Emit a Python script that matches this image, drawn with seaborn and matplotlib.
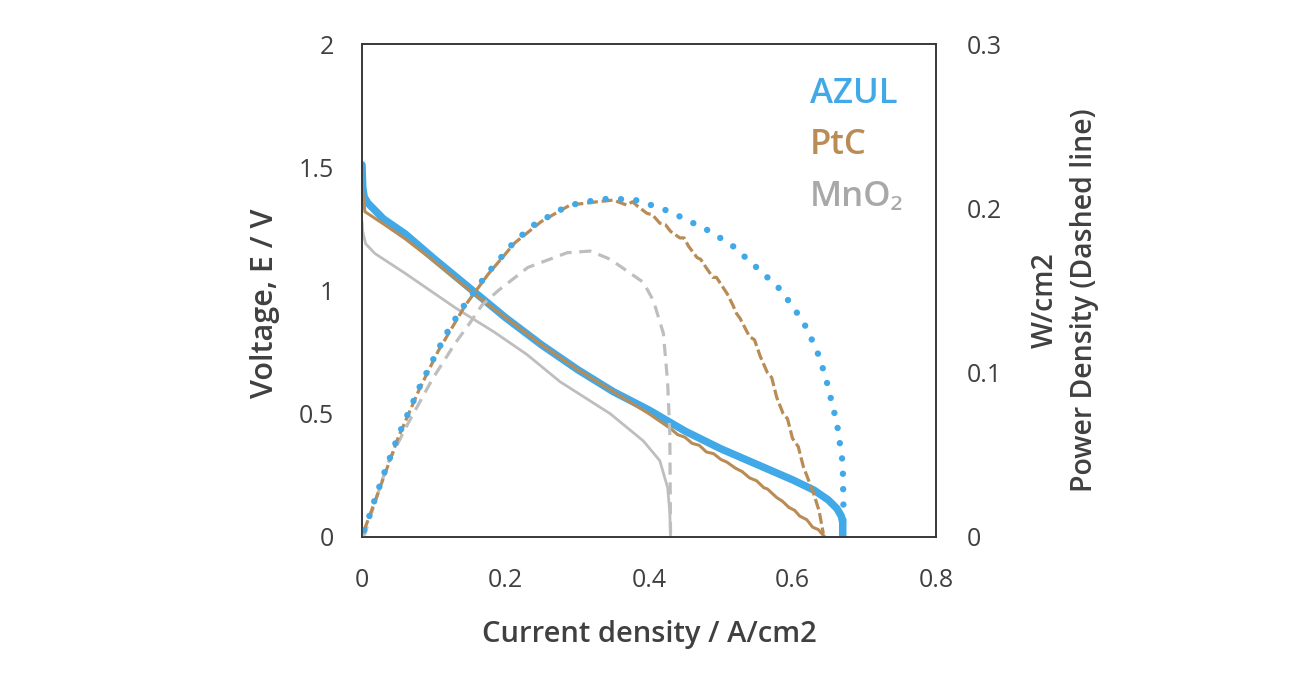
import numpy as np
import pandas as pd
import matplotlib
matplotlib.use("Agg")
import matplotlib.pyplot as plt
import seaborn as sns
from matplotlib.ticker import FuncFormatter

# polarization curves (current density A/cm2, voltage V)
azul_j = [0.0, 0.001, 0.003, 0.008, 0.03, 0.06, 0.10, 0.15, 0.20, 0.25, 0.30, 0.35,
          0.40, 0.45, 0.50, 0.55, 0.60, 0.63, 0.65, 0.662, 0.668, 0.670, 0.670]
azul_v = [1.51, 1.42, 1.38, 1.355, 1.29, 1.23, 1.13, 1.01, 0.89, 0.78, 0.68, 0.59,
          0.515, 0.43, 0.358, 0.295, 0.232, 0.19, 0.15, 0.115, 0.085, 0.06, 0.0]

ptc_j = [0.0, 0.001, 0.004, 0.03, 0.06, 0.10, 0.15, 0.20, 0.25, 0.30, 0.35, 0.40,
         0.43, 0.44, 0.45, 0.46, 0.47, 0.48, 0.49, 0.50, 0.509, 0.52, 0.53, 0.54,
         0.55, 0.56, 0.565, 0.578, 0.586, 0.595, 0.603, 0.61, 0.62, 0.628, 0.636, 0.645]
ptc_v = [1.49, 1.40, 1.32, 1.27, 1.21, 1.12, 1.00, 0.89, 0.78, 0.68, 0.59, 0.50,
         0.44, 0.415, 0.405, 0.38, 0.372, 0.345, 0.338, 0.315, 0.303, 0.28, 0.265, 0.24,
         0.228, 0.2, 0.195, 0.16, 0.145, 0.12, 0.108, 0.085, 0.07, 0.04, 0.03, 0.0]

mno2_j = [0.0, 0.001, 0.005, 0.018, 0.06, 0.13, 0.185, 0.23, 0.276, 0.346, 0.392,
          0.415, 0.426, 0.429, 0.430]
mno2_v = [1.28, 1.24, 1.19, 1.15, 1.07, 0.93, 0.83, 0.74, 0.63, 0.50, 0.39,
          0.31, 0.20, 0.10, 0.0]

# power density curves (W/cm2)
azul_pj = [0.003, 0.007, 0.018, 0.031, 0.05, 0.066, 0.081, 0.106, 0.123, 0.144, 0.176,
           0.213, 0.24, 0.276, 0.30, 0.336, 0.378, 0.41, 0.429, 0.485, 0.517, 0.55,
           0.58, 0.601, 0.62, 0.638, 0.648, 0.662, 0.670, 0.671, 0.671]
azul_p = [0.004, 0.0085, 0.023, 0.039, 0.061, 0.077, 0.092, 0.114, 0.128, 0.142, 0.161,
          0.180, 0.190, 0.199, 0.203, 0.2057, 0.2055, 0.201, 0.198, 0.186, 0.177, 0.164,
          0.152, 0.140, 0.127, 0.109, 0.094, 0.069, 0.045, 0.019, 0.008]

ptc_pj = [0.003, 0.02, 0.05, 0.08, 0.106, 0.144, 0.176, 0.213, 0.25, 0.29, 0.328, 0.35,
          0.369, 0.377, 0.385, 0.397, 0.405, 0.415, 0.423, 0.43, 0.443, 0.449, 0.455,
          0.467, 0.472, 0.478, 0.489, 0.494, 0.50, 0.509, 0.517, 0.522, 0.527, 0.54,
          0.547, 0.555, 0.565, 0.571, 0.578, 0.587, 0.593, 0.60, 0.608, 0.615, 0.629,
          0.637, 0.643]
ptc_p = [0.004, 0.024, 0.060, 0.090, 0.113, 0.141, 0.160, 0.179, 0.192, 0.202, 0.204, 0.205,
         0.202, 0.204, 0.201, 0.197, 0.196, 0.191, 0.190, 0.186, 0.182, 0.182, 0.177,
         0.170, 0.169, 0.165, 0.158, 0.158, 0.154, 0.148, 0.141, 0.136, 0.133, 0.122,
         0.120, 0.110, 0.100, 0.097, 0.085, 0.075, 0.072, 0.060, 0.055, 0.043, 0.027,
         0.016, 0.002]

mno2_pj = [0.0, 0.004, 0.036, 0.064, 0.098, 0.13, 0.15, 0.167, 0.19, 0.231, 0.286, 0.318,
           0.346, 0.369, 0.392, 0.406, 0.420, 0.426, 0.429, 0.430]
mno2_p = [0.0, 0.002, 0.045, 0.069, 0.096, 0.118, 0.130, 0.141, 0.150, 0.164, 0.173, 0.174,
          0.169, 0.162, 0.155, 0.144, 0.124, 0.094, 0.063, 0.002]

names = ["AZUL", "PtC", "MnO₂"]
colors = ["#41A9E8", "#B98B55", "#BEBEBE"]

sns.set_style("white")
plt.rcParams["font.family"] = ["Open Sans", "Noto Sans", "DejaVu Sans"]
txt = "#404040"

fig = plt.figure(figsize=(13, 7), dpi=100)
ax = fig.add_axes([362 / 1300, 1 - 537 / 700, 574 / 1300, 493 / 700])
ax2 = ax.twinx()

# power density (right axis)
sns.lineplot(x=mno2_pj, y=mno2_p, ax=ax2, color=colors[2], lw=2.3, sort=False,
             estimator=None, linestyle=(0, (3.8, 2.4)))
sns.lineplot(x=ptc_pj, y=ptc_p, ax=ax2, color=colors[1], lw=2.3, sort=False,
             estimator=None, linestyle=(0, (3.4, 1.2)))
l = sns.lineplot(x=azul_pj, y=azul_p, ax=ax2, color=colors[0], lw=4.6, sort=False,
                 estimator=None, linestyle=(0, (0.01, 2.4)))
l.lines[-1].set_dash_capstyle("round")

# voltage (left axis)
sns.lineplot(x=mno2_j, y=mno2_v, ax=ax, color=colors[2], lw=2.0, sort=False, estimator=None)
sns.lineplot(x=azul_j, y=azul_v, ax=ax, color=colors[0], lw=5.4, sort=False, estimator=None)
sns.lineplot(x=ptc_j, y=ptc_v, ax=ax, color=colors[1], lw=2.2, sort=False, estimator=None)

ax.set_xlim(0, 0.8)
ax.set_ylim(0, 2)
ax2.set_ylim(0, 0.3)
ax.set_xticks([0, 0.2, 0.4, 0.6, 0.8])
ax.set_yticks([0, 0.5, 1, 1.5, 2])
ax2.set_yticks([0, 0.1, 0.2, 0.3])
fmt = FuncFormatter(lambda v, p: f"{v:g}")
ax.xaxis.set_major_formatter(fmt)
ax.yaxis.set_major_formatter(fmt)
ax2.yaxis.set_major_formatter(fmt)

ax.tick_params(axis="x", length=0, pad=22, labelsize=18, labelcolor=txt)
ax.tick_params(axis="y", length=0, pad=20, labelsize=18, labelcolor=txt)
ax2.tick_params(axis="y", length=0, pad=22, labelsize=18, labelcolor=txt)

for a in (ax, ax2):
    for s in a.spines.values():
        s.set_visible(True)
        s.set_color("#333333")
        s.set_linewidth(1.1)

ax.set_xlabel("Current density / A/cm2", fontsize=21, fontweight="semibold", color=txt)
ax.xaxis.set_label_coords(0.5, -0.168)
ax.set_ylabel("Voltage, E / V", fontsize=22, fontweight="semibold", color=txt)
ax.yaxis.set_label_coords(-0.143, 0.475)
ax2.set_ylabel("W/cm2\nPower Density (Dashed line)", fontsize=20.5, fontweight="semibold",
               color=txt, linespacing=1.45)
ax2.yaxis.set_label_coords(1.165, 0.48)

for name, c, yy in zip(names, colors, [0.898, 0.795, 0.69]):
    tc = "#A8A8A8" if name.startswith("Mn") else c
    ax.text(0.78, yy, name, transform=ax.transAxes, fontsize=25, fontweight="semibold",
            color=tc, ha="left", va="center")

fig.savefig("out.png", dpi=100)
